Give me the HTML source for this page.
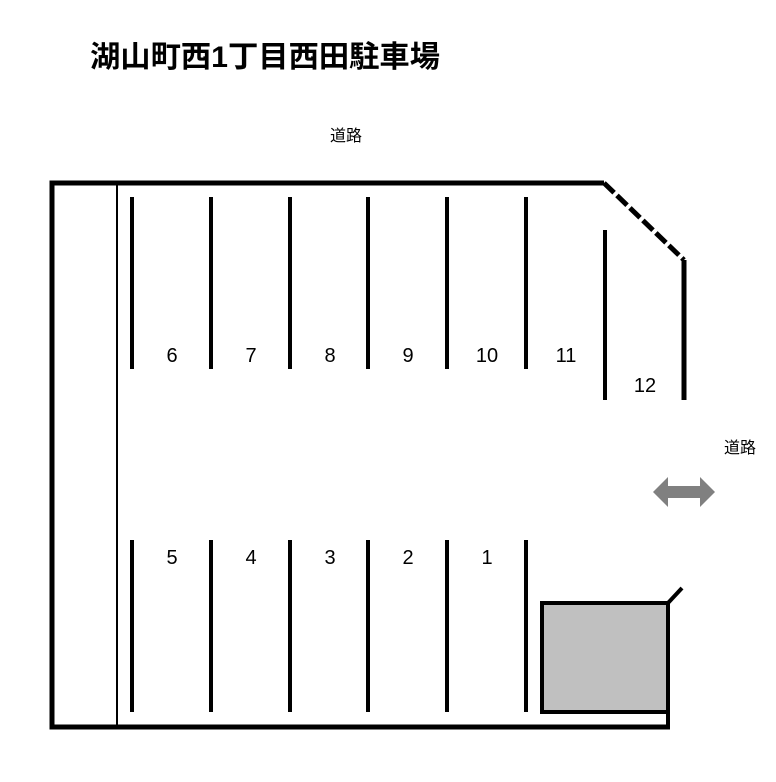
<!DOCTYPE html>
<html><head><style>body{margin:0;background:#fff}</style></head><body>
<svg width="776" height="777" xmlns="http://www.w3.org/2000/svg">
<rect width="776" height="777" fill="#fff"/>
<text x="90" y="67" textLength="350" lengthAdjust="spacingAndGlyphs" font-family="Liberation Sans, Noto Sans CJK JP, sans-serif" font-size="30" font-weight="bold">湖山町西1丁目西田駐車場</text>
<text x="346" y="141" text-anchor="middle" font-family="Liberation Sans, Noto Sans CJK JP, sans-serif" font-size="16">道路</text>
<text x="740" y="453" text-anchor="middle" font-family="Liberation Sans, Noto Sans CJK JP, sans-serif" font-size="16">道路</text>
<g stroke="#000" fill="none">
<polyline points="670,727 52,727 52,183 604,183" stroke-width="5"/>
<line x1="604" y1="183" x2="684" y2="260" stroke-width="5" stroke-dasharray="14,4"/>
<line x1="684" y1="260" x2="684" y2="400" stroke-width="5"/>
<line x1="117" y1="183" x2="117" y2="727" stroke-width="2"/>
<g stroke-width="4">
<line x1="132" y1="197" x2="132" y2="369"/><line x1="211" y1="197" x2="211" y2="369"/>
<line x1="290" y1="197" x2="290" y2="369"/><line x1="368" y1="197" x2="368" y2="369"/>
<line x1="447" y1="197" x2="447" y2="369"/><line x1="526" y1="197" x2="526" y2="369"/>
<line x1="605" y1="230" x2="605" y2="400"/>
<line x1="132" y1="540" x2="132" y2="712"/><line x1="211" y1="540" x2="211" y2="712"/>
<line x1="290" y1="540" x2="290" y2="712"/><line x1="368" y1="540" x2="368" y2="712"/>
<line x1="447" y1="540" x2="447" y2="712"/><line x1="526" y1="540" x2="526" y2="712"/>
<rect x="542" y="603" width="126" height="109" fill="#c0c0c0"/>
<line x1="668" y1="711" x2="668" y2="727"/>
<line x1="668" y1="603" x2="682" y2="588"/>
</g>
</g>
<polygon points="653,492 668,477 668,486 700,486 700,477 715,492 700,507 700,498 668,498 668,507" fill="#808080"/>
<g font-family="Liberation Sans Narrow, Liberation Sans, sans-serif" font-size="20" text-anchor="middle">
<text x="172" y="362">6</text><text x="251" y="362">7</text><text x="330" y="362">8</text>
<text x="408" y="362">9</text><text x="487" y="362">10</text><text x="566" y="362">11</text>
<text x="645" y="392">12</text>
<text x="172" y="564">5</text><text x="251" y="564">4</text><text x="330" y="564">3</text>
<text x="408" y="564">2</text><text x="487" y="564">1</text>
</g>
</svg>
</body></html>
